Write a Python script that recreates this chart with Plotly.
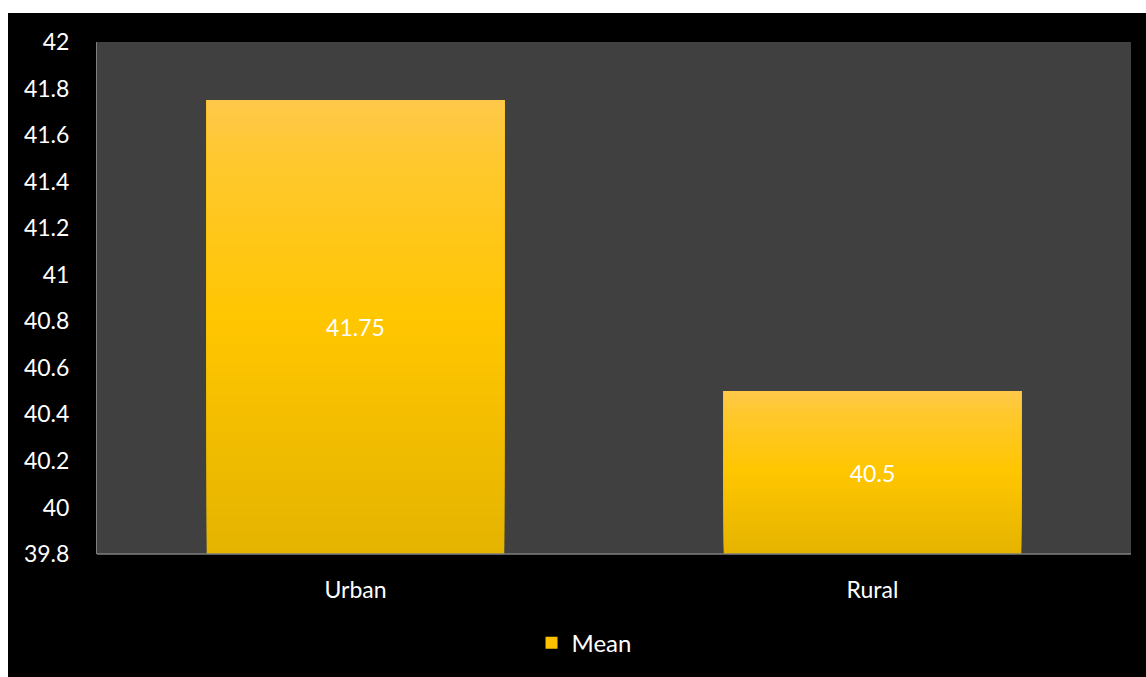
import plotly.graph_objects as go

categories = ["Urban", "Rural"]
mean_values = [41.75, 40.5]
value_labels = ["41.75", "40.5"]
y_tick_values = [39.8, 40.0, 40.2, 40.4, 40.6, 40.8, 41.0, 41.2, 41.4, 41.6, 41.8, 42.0]
y_tick_labels = ["39.8", "40", "40.2", "40.4", "40.6", "40.8", "41", "41.2", "41.4", "41.6", "41.8", "42"]
series_name = "Mean"

Y_MIN, Y_MAX = 39.8, 42.0
FONT = "Lato"

# gradient stops (fraction from bottom -> rgb)
stops = [(0.0, (229, 180, 0)), (0.5, (255, 198, 0)), (0.85, (255, 200, 45)), (1.0, (255, 200, 76))]


def grad_color(f):
    for (f0, c0), (f1, c1) in zip(stops[:-1], stops[1:]):
        if f0 <= f <= f1:
            t = (f - f0) / (f1 - f0) if f1 > f0 else 0
            c = [round(a + (b - a) * t) for a, b in zip(c0, c1)]
            return f"rgb({c[0]},{c[1]},{c[2]})"
    c = stops[-1][1]
    return f"rgb({c[0]},{c[1]},{c[2]})"


fig = go.Figure()
BARGAP = 0.425

# legend / base trace
fig.add_trace(go.Bar(
    x=categories, y=mean_values, name=series_name,
    marker=dict(color="#FFC000", line=dict(width=0)),
    showlegend=True, hoverinfo="skip",
))

# gradient segments
N = 60
for i in range(N):
    f = i / N
    bases = [Y_MIN + (v - Y_MIN) * f for v in mean_values]
    heights = [v - b for v, b in zip(mean_values, bases)]
    fig.add_trace(go.Bar(
        x=categories, y=heights, base=bases,
        marker=dict(color=grad_color(f), line=dict(width=0)),
        showlegend=False, hoverinfo="skip",
    ))

# text labels
fig.add_trace(go.Bar(
    x=categories, y=[v - Y_MIN for v in mean_values], base=[Y_MIN] * len(mean_values),
    text=value_labels, textposition="inside", insidetextanchor="middle",
    textfont=dict(color="white", size=23, family=FONT),
    marker=dict(color="rgba(0,0,0,0)", line=dict(width=0)),
    showlegend=False, hoverinfo="skip",
))

W, H = 1146, 677
ml, mr, mt, mb = 97, 15, 42, 123
pw, ph = W - ml - mr, H - mt - mb

shapes = [
    # black chart background (leaving white strips at top/left like the reference)
    dict(type="rect", xref="paper", yref="paper",
         x0=(8 - ml) / pw, x1=(W - ml) / pw,
         y0=-(mb) / ph, y1=(mt - 13) / ph + 1,
         fillcolor="black", line=dict(width=0), layer="below"),
    dict(type="rect", xref="paper", yref="paper", x0=0, x1=1, y0=0, y1=1,
         fillcolor="#404040", line=dict(width=0), layer="below"),
]

fig.update_layout(
    width=W, height=H,
    margin=dict(l=ml, r=mr, t=mt, b=mb, autoexpand=False),
    paper_bgcolor="white",
    plot_bgcolor="rgba(0,0,0,0)",
    barmode="overlay",
    bargap=BARGAP,
    shapes=shapes,
    font=dict(family=FONT, color="white", size=23),
    showlegend=True,
    legend=dict(orientation="h", x=0.471, xanchor="center", y=-0.13, yanchor="top",
                font=dict(size=24, color="white", family=FONT), bgcolor="rgba(0,0,0,0)"),
    xaxis=dict(showgrid=False, showline=False, ticks="", tickfont=dict(size=23, color="white"),
               ticklabelstandoff=20, zeroline=False),
    yaxis=dict(range=[Y_MIN, Y_MAX], tickvals=y_tick_values, ticktext=y_tick_labels,
               showgrid=False, zeroline=False, showline=True, linecolor="#7f7f7f", linewidth=1,
               ticks="", tickfont=dict(size=23, color="white"), ticklabelstandoff=22),
)

# bottom axis line
fig.add_shape(type="line", xref="paper", yref="paper", x0=0, x1=1, y0=0, y1=0,
              line=dict(color="#7f7f7f", width=1.5), layer="above")

fig.write_html("out.html")
